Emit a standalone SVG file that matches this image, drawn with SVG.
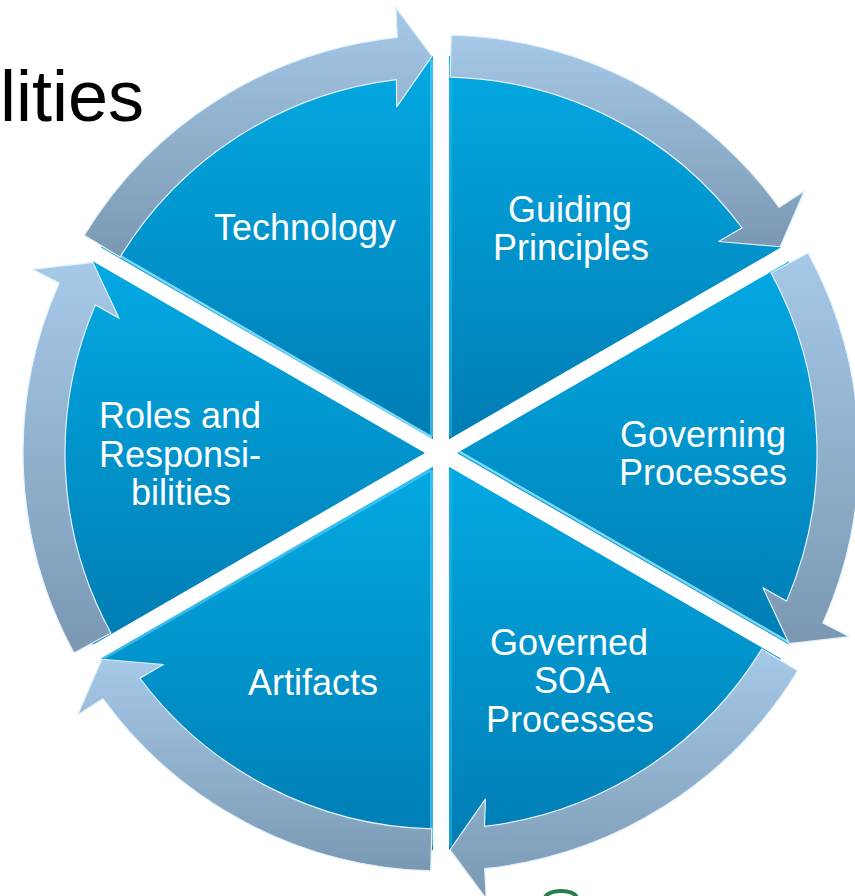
<svg xmlns="http://www.w3.org/2000/svg" width="855" height="896" viewBox="0 0 855 896">
  <defs>
    <linearGradient id="gWedge" x1="0" y1="0" x2="0" y2="1">
      <stop offset="0" stop-color="#03a9e3"/>
      <stop offset="1" stop-color="#007db3"/>
    </linearGradient>
    <linearGradient id="gArrow" x1="0" y1="0" x2="0" y2="1">
      <stop offset="0" stop-color="#a6c9e8"/>
      <stop offset="1" stop-color="#7a98b2"/>
    </linearGradient>
    <style>
      .wedge { fill: url(#gWedge); }
      .hl { stroke: #8ee8ff; stroke-width: 2.5; opacity: 0.85; fill: none; }
      .hv { stroke: #5cd2f6; stroke-width: 3; opacity: 0.6; fill: none; }
      .arrow { fill: url(#gArrow); stroke: #e2f2fb; stroke-width: 1.2; stroke-linejoin: round; }
      .lbl { font-family: "Liberation Sans", Arial, sans-serif; font-size: 36px; fill: #ffffff; text-anchor: middle; }
      .title { font-family: "Liberation Sans", Arial, sans-serif; font-size: 72px; fill: #000000; }
    </style>
  </defs>
  <rect width="855" height="896" fill="#ffffff"/>

  <text class="title" x="0" y="121">lities</text>

  <g id="node-technology">
    <path class="wedge" d="M433,439.14 L101.26,247.61 A397,397 0 0 1 433,56.08 Z"/>
    <line class="hl" x1="432" y1="437.4" x2="103" y2="246"/>
    <line class="hv" x1="431.5" y1="60" x2="431.5" y2="436"/>
    <text class="lbl" x="305" y="240">Technology</text>
  </g>
  <g id="node-guiding-principles">
    <path class="wedge" d="M449,439.14 L449,56.08 A397,397 0 0 1 780.74,247.61 Z"/>
    <line class="hv" x1="450.5" y1="60" x2="450.5" y2="436" style="stroke:#22b6ec"/>
    <text class="lbl" x="570" y="222">Guiding</text>
    <text class="lbl" x="571" y="260">Principles</text>
  </g>
  <g id="node-governing-processes">
    <path class="wedge" d="M457,453 L788.74,261.47 A397,397 0 0 1 788.74,644.53 Z"/>
    <line class="hl" x1="459" y1="451.5" x2="789.7" y2="642.8"/>
    <text class="lbl" x="703" y="447">Governing</text>
    <text class="lbl" x="703" y="485">Processes</text>
  </g>
  <g id="node-governed-soa-processes">
    <path class="wedge" d="M449,466.86 L780.74,658.39 A397,397 0 0 1 449,849.92 Z"/>
    <line class="hv" x1="450.5" y1="470" x2="450.5" y2="846" style="stroke:#22b6ec"/>
    <text class="lbl" x="569" y="655">Governed</text>
    <text class="lbl" x="572" y="693">SOA</text>
    <text class="lbl" x="570" y="732">Processes</text>
  </g>
  <g id="node-artifacts">
    <path class="wedge" d="M433,466.86 L433,849.92 A397,397 0 0 1 101.26,658.39 Z"/>
    <line class="hv" x1="431.5" y1="470" x2="431.5" y2="846"/>
    <line class="hv" x1="430" y1="470.5" x2="104" y2="658"/>
    <text class="lbl" x="313" y="695">Artifacts</text>
  </g>
  <g id="node-roles-responsibilities">
    <path class="wedge" d="M425,453 L93.26,644.53 A397,397 0 0 1 93.26,261.47 Z"/>
    <text class="lbl" x="180" y="428">Roles and</text>
    <text class="lbl" x="180" y="467">Responsi-</text>
    <text class="lbl" x="181" y="505">bilities</text>
  </g>

  <g id="connectors">
    <path class="arrow" d="M84.22,235.22 A418,418 0 0 1 397.31,37.29 L395.73,7.29 L431.99,56.10 L396.65,106.83 L396.48,79.64 A376,376 0 0 0 120.07,257.10 Z"/>
    <path class="arrow" d="M451.21,35.13 A418,418 0 0 1 779.17,207.30 L804.36,190.93 L780.22,246.75 L718.61,241.50 L742.08,227.76 A376,376 0 0 0 450.19,77.11 Z"/>
    <path class="arrow" d="M807.99,252.91 A418,418 0 0 1 822.87,623.02 L849.64,636.65 L789.24,643.65 L762.97,587.68 L786.60,601.12 A376,376 0 0 0 771.13,273.01 Z"/>
    <path class="arrow" d="M797.78,670.78 A418,418 0 0 1 484.69,868.71 L486.27,898.71 L450.01,849.90 L485.35,799.17 L484.52,826.36 A376,376 0 0 0 761.93,648.90 Z"/>
    <path class="arrow" d="M430.79,870.87 A418,418 0 0 1 102.83,698.70 L77.64,715.07 L101.78,659.25 L163.39,664.50 L139.92,678.24 A376,376 0 0 0 431.81,828.89 Z"/>
    <path class="arrow" d="M74.01,653.09 A418,418 0 0 1 59.13,282.98 L32.36,269.35 L92.76,262.35 L119.03,318.32 L95.40,304.88 A376,376 0 0 0 110.87,632.99 Z"/>
  </g>

  <path d="M545,897 A17,9 0 0 1 577,897" fill="none" stroke="#2b7d4f" stroke-width="4"/>
</svg>
